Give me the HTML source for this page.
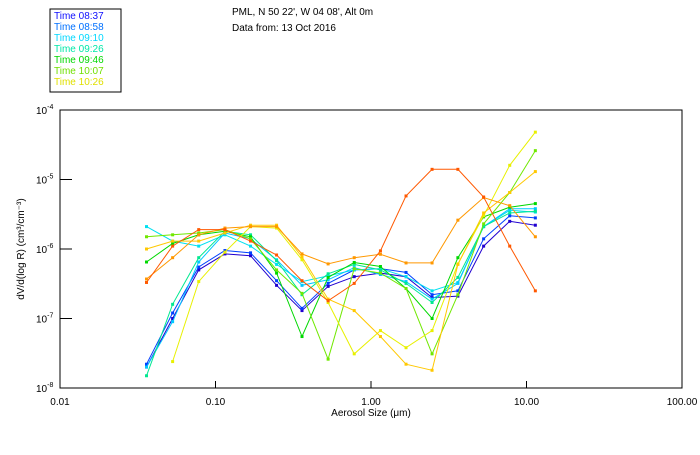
<!DOCTYPE html>
<html><head><meta charset="utf-8"><style>
body{margin:0;background:#fff;width:700px;height:450px;overflow:hidden;font-family:"Liberation Sans",sans-serif}
svg text{font-family:"Liberation Sans",sans-serif;font-size:10px}
</style></head><body>
<svg id="chart" width="700" height="450" xmlns="http://www.w3.org/2000/svg">
<rect x="50" y="9" width="71" height="83" fill="#fff" stroke="#000" stroke-width="1"/>
<g id="legend"></g>
<text x="232" y="15">PML, N 50 22', W 04 08', Alt 0m</text>
<text x="232" y="31">Data from: 13 Oct 2016</text>
<rect x="60" y="110" width="622" height="278" fill="none" stroke="#000" stroke-width="1"/>
<g id="axes"></g>
<g id="series"></g>
<text x="371" y="416" text-anchor="middle">Aerosol Size (μm)</text>
<text transform="translate(24,249) rotate(-90)" text-anchor="middle">dV/d(log R) (cm³/cm⁻³)</text>
</svg>
<script>
const sizes=[0.036,0.053,0.078,0.115,0.168,0.247,0.36,0.53,0.78,1.15,1.68,2.47,3.62,5.3,7.8,11.4];
const xTicks=[0.01,0.1,1,10,100];
const xTickLabels=["0.01","0.10","1.00","10.00","100.00"];
const yTicks=[1e-4,1e-5,1e-6,1e-7,1e-8];
const yTickLabels=["-4","-5","-6","-7","-8"];
const legendLabels=["Time 08:37","Time 08:58","Time 09:10","Time 09:26","Time 09:46","Time 10:07","Time 10:26"];
const legendColors=["#1010ff","#0070ff","#00d8ff","#00e8a8","#00d800","#70e000","#e0e000"];
const seriesColors=["#2000d0","#0040ff","#00e0f0","#00c8ff","#00e890","#00d800","#70e800","#e8f000","#ffc800","#ff9800","#ff5800"];
const s1=[2e-8,1e-7,5e-7,8.5e-7,8e-7,3e-7,1.3e-7,2.9e-7,4e-7,4.5e-7,4e-7,2e-7,2.1e-7,1.1e-6,2.5e-6,2.2e-6];
const s2=[2.2e-8,1.2e-7,5.5e-7,9.5e-7,8.8e-7,3.5e-7,1.4e-7,3.2e-7,5e-7,5.2e-7,4.6e-7,2.2e-7,2.5e-7,1.4e-6,3e-6,2.8e-6];
const s3=[2.1e-6,1.3e-6,1.1e-6,1.6e-6,1.1e-6,6e-7,3.4e-7,4.1e-7,5e-7,5.2e-7,4e-7,2.5e-7,3.3e-7,2.1e-6,3.6e-6,3.4e-6];
const s4=[2e-8,9e-8,6.5e-7,1.7e-6,1.4e-6,7e-7,3e-7,3.6e-7,5.4e-7,4.3e-7,3.4e-7,1.9e-7,3.2e-7,2.1e-6,3.8e-6,3.8e-6];
const s5=[1.5e-8,1.6e-7,7.5e-7,1.8e-6,1.6e-6,6.8e-7,2.2e-7,4.4e-7,6e-7,5e-7,3.2e-7,1.7e-7,3.9e-7,2.1e-6,3.3e-6,3.5e-6];
const s6=[6.5e-7,1.2e-6,1.6e-6,1.8e-6,1.5e-6,4.5e-7,5.5e-8,3.9e-7,6.4e-7,5.6e-7,2.7e-7,1e-7,7.5e-7,2.9e-6,4e-6,4.5e-6];
const s7=[1.5e-6,1.6e-6,1.7e-6,1.9e-6,1.4e-6,5e-7,2.3e-7,2.6e-8,5.2e-7,4.5e-7,2.7e-7,3.1e-8,2.2e-7,2.3e-6,6.5e-6,2.6e-5];
const s8=[null,2.4e-8,3.4e-7,9e-7,2.1e-6,2e-6,7e-7,1.7e-7,3.1e-8,6.7e-8,3.8e-8,6.7e-8,6.1e-7,3e-6,1.6e-5,4.8e-5];
const s9=[1e-6,1.3e-6,1.3e-6,1.7e-6,2.2e-6,2.2e-6,7.7e-7,1.9e-7,1.3e-7,5.5e-8,2.2e-8,1.8e-8,6e-7,3.3e-6,6.5e-6,1.3e-5];
const s10=[3.7e-7,7.5e-7,1.6e-6,2e-6,2.1e-6,2.1e-6,8.5e-7,6.1e-7,7.5e-7,8.4e-7,6.3e-7,6.3e-7,2.6e-6,5.5e-6,4.2e-6,1.5e-6];
const s11=[3.3e-7,1.1e-6,1.9e-6,1.9e-6,1.3e-6,8.2e-7,3.5e-7,1.8e-7,3.2e-7,9.4e-7,5.8e-6,1.4e-5,1.4e-5,5.6e-6,1.1e-6,2.5e-7];
const allSeries=[s1,s2,s3,s4,s5,s6,s7,s8,s9,s10,s11];

const NS="http://www.w3.org/2000/svg";
const L=60,R=682,T=110,B=388;
function xs(v){return L+(Math.log10(v)+2)/4*(R-L);}
function ys(v){return T+(-4-Math.log10(v))/4*(B-T);}
function mk(tag,attrs,parent){const e=document.createElementNS(NS,tag);for(const k in attrs)e.setAttribute(k,attrs[k]);parent.appendChild(e);return e;}

const axes=document.getElementById('axes');
xTicks.forEach((v,i)=>{
  const x=xs(v);
  if(i>0&&i<xTicks.length-1){const t=mk('line',{x1:x,x2:x,y1:B,y2:B-7,stroke:'#000'},axes);
  
  }
  const lb=mk('text',{x:x,y:B+17,'text-anchor':'middle'},axes);
  lb.textContent=xTickLabels[i];
  
  
});
yTicks.forEach((v,i)=>{
  const y=ys(v);
  if(i>0&&i<yTicks.length-1){const t=mk('line',{x1:L,x2:L+12,y1:y,y2:y,stroke:'#000'},axes);
  
  }
  const lb=mk('text',{x:36,y:y+4},axes);
  lb.innerHTML='10<tspan dy="-5" font-size="7">'+yTickLabels[i]+'</tspan>';
  
  
});

const leg=document.getElementById('legend');
legendLabels.forEach((t,i)=>{
  const e=mk('text',{x:54,y:19+i*11,fill:legendColors[i]},leg);
  e.textContent=t;
  
  
});

const sg=document.getElementById('series');
allSeries.forEach((s,si)=>{
  const c=seriesColors[si];
  let d='',pen=false;
  s.forEach((v,i)=>{
    if(v==null){pen=false;return;}
    d+=(pen?'L':'M')+xs(sizes[i]).toFixed(1)+' '+ys(v).toFixed(1);pen=true;
  });
  const p=mk('path',{d:d,fill:'none',stroke:c,'stroke-width':1},sg);
  
  
  s.forEach((v,i)=>{
    if(v==null)return;
    const m=mk('rect',{x:xs(sizes[i])-1.5,y:ys(v)-1.5,width:3,height:3,fill:c},sg);
    
    
  });
});
</script>
</body></html>
